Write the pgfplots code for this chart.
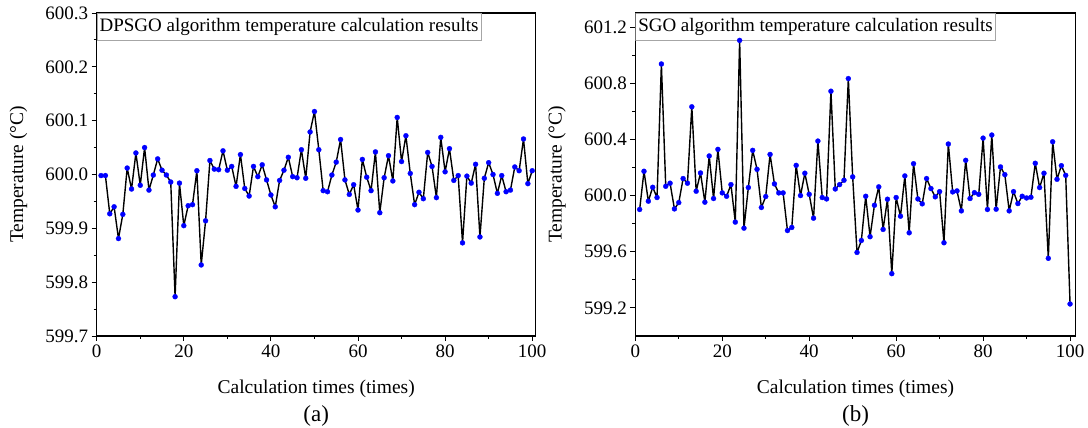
\documentclass[border=0pt]{standalone}
\usepackage{fontspec}
\setmainfont{Liberation Serif}
\usepackage{pgfplots}
\usepackage{pgfplotstable}
\pgfplotsset{compat=1.18}

\pgfplotstableread{
x y
1 599.998
2 599.998
3 599.927
4 599.940
5 599.881
6 599.926
7 600.012
8 599.973
9 600.040
10 599.980
11 600.050
12 599.971
13 599.999
14 600.029
15 600.008
16 599.999
17 599.986
18 599.773
19 599.984
20 599.905
21 599.942
22 599.944
23 600.007
24 599.832
25 599.914
26 600.026
27 600.010
28 600.009
29 600.044
30 600.008
31 600.015
32 599.978
33 600.037
34 599.974
35 599.960
36 600.015
37 599.996
38 600.018
39 599.990
40 599.962
41 599.940
42 599.989
43 600.008
44 600.032
45 599.996
46 599.994
47 600.046
48 599.993
49 600.079
50 600.117
51 600.046
52 599.970
53 599.968
54 599.999
55 600.023
56 600.065
57 599.990
58 599.963
59 599.981
60 599.934
61 600.028
62 599.995
63 599.970
64 600.042
65 599.929
66 599.994
67 600.035
68 599.988
69 600.106
70 600.024
71 600.072
72 600.002
73 599.944
74 599.967
75 599.955
76 600.041
77 600.015
78 599.957
79 600.069
80 600.005
81 600.048
82 599.989
83 599.998
84 599.873
85 599.997
86 599.984
87 600.019
88 599.884
89 599.993
90 600.022
91 600.000
92 599.965
93 599.998
94 599.968
95 599.971
96 600.014
97 600.007
98 600.066
99 599.983
100 600.007
}\dpsgo

\pgfplotstableread{
x y
1 599.901
2 600.173
3 599.960
4 600.059
5 599.986
6 600.937
7 600.066
8 600.088
9 599.905
10 599.950
11 600.121
12 600.088
13 600.632
14 600.031
15 600.161
16 599.953
17 600.282
18 599.979
19 600.329
20 600.019
21 599.995
22 600.078
23 599.811
24 601.105
25 599.768
26 600.057
27 600.322
28 600.187
29 599.915
30 599.993
31 600.293
32 600.083
33 600.019
34 600.019
35 599.751
36 599.773
37 600.215
38 600.000
39 600.159
40 600.009
41 599.839
42 600.388
43 599.986
44 599.976
45 600.743
46 600.047
47 600.078
48 600.109
49 600.833
50 600.133
51 599.595
52 599.680
53 599.995
54 599.707
55 599.931
56 600.062
57 599.759
58 599.974
59 599.444
60 599.986
61 599.853
62 600.140
63 599.735
64 600.227
65 599.976
66 599.941
67 600.121
68 600.050
69 599.991
70 600.028
71 599.664
72 600.367
73 600.026
74 600.033
75 599.891
76 600.251
77 599.979
78 600.021
79 600.009
80 600.409
81 599.901
82 600.431
83 599.903
84 600.204
85 600.149
86 599.891
87 600.028
88 599.943
89 599.995
90 599.983
91 599.988
92 600.230
93 600.057
94 600.159
95 599.553
96 600.383
97 600.116
98 600.213
99 600.144
100 599.228
}\sgo

\pgfplotsset{
  myax/.style={
    scale only axis,
    height=323pt,
    xmin=0,
    xtick={0,20,40,60,80,100},
    minor x tick num=1,
    minor y tick num=1,
    tick align=outside,
    tick pos=left,
    major tick length=5pt,
    minor tick length=3pt,
    every tick/.style={black, line width=0.9pt},
    axis line style={black, line width=1.2pt},
    /pgf/number format/assume math mode=true,
    tick label style={font=\fontsize{19}{21}\selectfont},
    y tick label style={/pgf/number format/.cd, fixed, fixed zerofill, precision=1, /tikz/.cd},
    label style={font=\fontsize{19.5}{22}\selectfont},
    xlabel={Calculation times (times)},
    ylabel={Temperature (\textdegree C)},
    xlabel style={at={(axis description cs:0.5,-0.178)}, anchor=base},
    ylabel style={at={(axis description cs:-0.178,0.5)}, anchor=center},
  },
  myplot/.style={black, line width=1.4pt, line join=round, line cap=round,
    mark=*, mark size=2.5pt,
    mark options={draw=blue, fill=blue, line width=0.3pt}},
}
\tikzset{
  titlebox/.style={draw=black!35, fill=white, anchor=north west, line width=0.9pt,
    inner xsep=2.5pt, inner ysep=5pt, text height=13pt, text depth=4pt,
    font=\fontsize{19}{22}\selectfont},
}

\begin{document}
\begin{tikzpicture}
\useasboundingbox (0pt,0pt) rectangle (1088pt,428pt);
\begin{axis}[myax, name=A, at={(96.7pt,92pt)}, anchor=south west,
  width=439pt, xmax=100.8,
  ymin=599.7, ymax=600.3,
  ytick={599.7,599.8,599.9,600.0,600.1,600.2,600.3}]
  \addplot[myplot] table[x=x, y=y] {\dpsgo};
  \node[titlebox] at (rel axis cs:0,1) {DPSGO algorithm temperature calculation results};
\end{axis}
\node[font=\fontsize{23}{26}\selectfont, anchor=base] at ([yshift=-86pt]A.south) {(a)};

\begin{axis}[myax, name=B, at={(635.3pt,92pt)}, anchor=south west,
  width=440.4pt, xmax=101.3,
  ymin=599.0, ymax=601.3,
  ytick={599.2,599.6,600.0,600.4,600.8,601.2}]
  \addplot[myplot] table[x=x, y=y] {\sgo};
  \node[titlebox] at (rel axis cs:0,1) {SGO algorithm temperature calculation results};
\end{axis}
\node[font=\fontsize{23}{26}\selectfont, anchor=base] at ([yshift=-86pt]B.south) {(b)};
\end{tikzpicture}
\end{document}
